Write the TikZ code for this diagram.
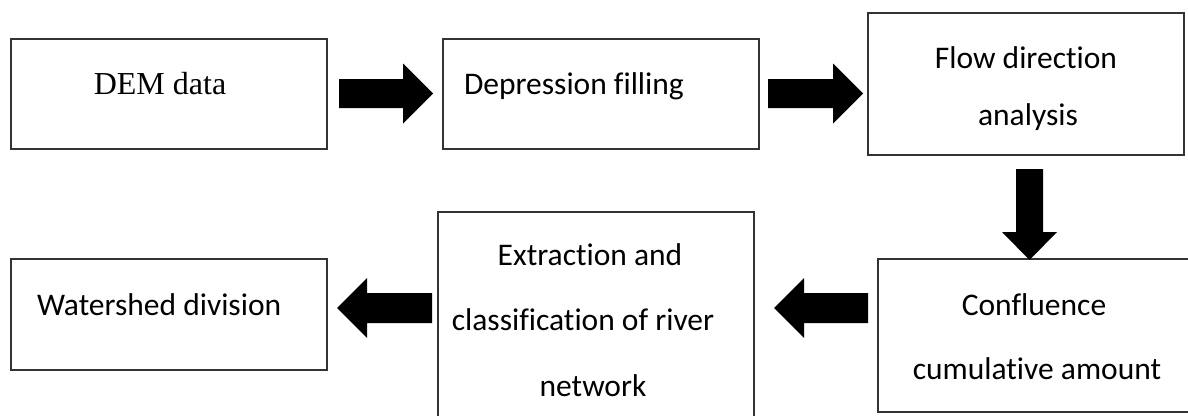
\documentclass[tikz,border=0pt]{standalone}
\usepackage{fontspec}
\setmainfont{Liberation Serif}
\newfontfamily\calfont[Ligatures={NoCommon}]{Carlito}
\usetikzlibrary{calc}
\newcommand{\myRarrow}[2]{\fill[blk] ($(#1)+(0,-14.5)$) -- ($(#2)+(-30,-14.5)$) -- ($(#2)+(-30,-30)$) -- (#2) -- ($(#2)+(-30,30)$) -- ($(#2)+(-30,14.5)$) -- ($(#1)+(0,14.5)$) -- cycle;}
\newcommand{\myLarrow}[2]{\fill[blk] ($(#1)+(0,-15)$) -- ($(#2)+(30,-15)$) -- ($(#2)+(30,-30)$) -- (#2) -- ($(#2)+(30,30)$) -- ($(#2)+(30,15)$) -- ($(#1)+(0,15)$) -- cycle;}
\newcommand{\myDarrow}[2]{\fill[blk] ($(#1)+(-13.5,0)$) -- ($(#2)+(-13.5,-28)$) -- ($(#2)+(-27.5,-28)$) -- (#2) -- ($(#2)+(27.5,-28)$) -- ($(#2)+(13.5,-28)$) -- ($(#1)+(13.5,0)$) -- cycle;}
\begin{document}
\begin{tikzpicture}[x=1pt,y=-1pt,
  box/.style={draw=black!80, line width=1.3pt, inner sep=0pt, outer sep=0pt, minimum width=316pt},
  lbl/.style={inner sep=0pt, outer sep=0pt, font=\calfont\fontsize{31.5}{37}\selectfont},
  serlbl/.style={inner sep=0pt, outer sep=0pt, font=\rmfamily\fontsize{32}{38}\selectfont},
  blk/.style={fill=black}]
\useasboundingbox (0,0) rectangle (1188,415);
\clip (0,0) rectangle (1188,415);
% boxes
\node[box, minimum height=110pt] (dem)  at (169,94) {};
\node[box, minimum height=110pt] (dep)  at (601,94) {};
\node[box, minimum height=142pt] (flow) at (1026,84) {};
\node[box, minimum height=153pt] (conf) at (1036,335.5) {};
\node[box, minimum height=206pt] (ext)  at (596,315) {};
\node[box, minimum height=111pt] (wat)  at (169,314.5) {};
% texts
\node[serlbl, anchor=base] (tdem) at (160,94) {DEM data};
\node[lbl, anchor=base west] (tdep) at (464,94) {Depression filling};
\node[lbl, anchor=base] (tflow1) at (1026,68) {Flow direction};
\node[lbl, anchor=base] (tflow2) at (1028,125) {analysis};
\node[lbl, anchor=base] (tconf1) at (1034,315) {Confluence};
\node[lbl, anchor=base] (tconf2) at (1037,379) {cumulative amount};
\node[lbl, anchor=base] (text1) at (590,265) {Extraction and};
\node[lbl, anchor=base] (text2) at (583,330) {classification of river};
\node[lbl, anchor=base] (text3) at (593,396) {network};
\node[lbl, anchor=base west] (twat) at (37,315) {Watershed division};
% connector end points
\coordinate (a1s) at ($(dem.east)+(12,-0.5)$);
\coordinate (a1e) at ($(dep.west)+(-10,-0.5)$);
\coordinate (a2s) at ($(dep.east)+(9,-0.5)$);
\coordinate (a2e) at ($(flow.west)+(-5,9.5)$);
\coordinate (a3s) at ($(flow.south)+(3.5,14)$);
\coordinate (a3e) at ($(conf.north)+(-6.5,1)$);
\coordinate (a4s) at ($(conf.west)+(-10,-27.5)$);
\coordinate (a4e) at ($(ext.east)+(20,-7)$);
\coordinate (a5s) at ($(ext.west)+(-6,-7)$);
\coordinate (a5e) at ($(wat.east)+(10,-6.5)$);
% block arrows
\myRarrow{a1s}{a1e}
\myRarrow{a2s}{a2e}
\myDarrow{a3s}{a3e}
\myLarrow{a4s}{a4e}
\myLarrow{a5s}{a5e}
\end{tikzpicture}
\end{document}
